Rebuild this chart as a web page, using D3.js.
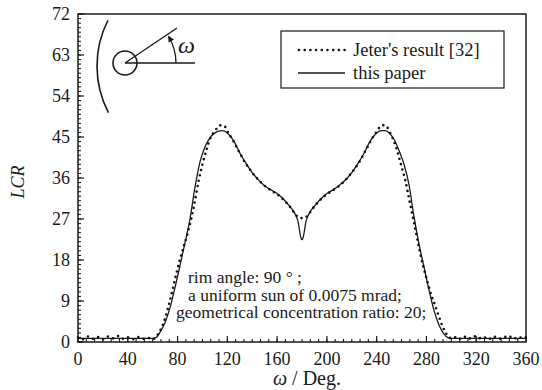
<!DOCTYPE html>
<html>
<head>
<meta charset="utf-8">
<script src="https://cdn.jsdelivr.net/npm/d3@7"></script>
</head>
<body style="margin:0">
<div id="container"></div>
<script>
const width = 542;
const height = 390;
const margin = { top: 14, right: 16, bottom: 48, left: 78 };
const serif = "\"Liberation Serif\"";
const ink = "#1a1a1a";

// "this paper" (solid line)
const omegaPaper = [0, 10, 20, 30, 40, 50, 60, 63, 66, 70, 74, 78, 82, 86, 90, 94, 98, 102, 106, 110,
    113, 116, 120, 125, 130, 135, 140, 145, 150, 155, 160, 165, 170, 173, 175, 177, 178, 179, 180,
    181, 182, 183, 185, 187, 190, 195, 200, 205, 210, 215, 220, 225, 230, 235, 240, 244, 247, 250,
    254, 258, 262, 266, 270, 274, 278, 282, 286, 290, 294, 297, 300, 310, 320, 330, 340, 350, 360];
const lcrPaper = [0.8, 0.8, 0.8, 0.8, 0.8, 0.8, 0.8, 1.0, 2.2, 4.3, 7.6, 12.0, 16.8, 21.8, 27.0, 34.0, 39.5, 42.8, 44.8, 45.9,
    46.3, 46.4, 45.9, 44.2, 41.5, 39.2, 37.2, 35.6, 34.3, 33.4, 32.6, 31.4, 29.8, 28.8, 27.8, 26.2, 24.5, 23.0, 22.5,
    23.0, 24.5, 26.2, 27.8, 28.8, 29.8, 31.4, 32.6, 33.4, 34.4, 35.6, 37.2, 39.2, 41.5, 44.2, 45.9, 46.4, 46.4, 45.9,
    44.5, 42.0, 39.0, 34.5, 27.5, 21.5, 16.5, 11.5, 7.0, 3.8, 1.8, 1.0, 0.8, 0.8, 0.8, 0.8, 0.8, 0.8, 0.8];

// Jeter's result [32] (dotted line)
const omegaJeter = [0, 4, 8, 12, 16, 20, 24, 28, 32, 36, 40, 44, 48, 52, 56, 60, 62, 64, 67, 70, 73, 76, 79,
    82, 85, 88, 91, 94, 97, 100, 103, 106, 109, 112, 115, 118, 121, 124, 127, 130, 134, 138, 142, 146,
    150, 154, 158, 162, 166, 170, 174, 177, 180, 183, 186, 190, 194, 198, 202, 206, 210, 214, 218, 222,
    226, 230, 233, 236, 239, 242, 245, 248, 251, 254, 257, 260, 263, 266, 269, 272, 275, 278, 281, 284,
    287, 290, 293, 296, 299, 302, 306, 310, 314, 318, 322, 326, 330, 334, 338, 342, 346, 350, 354, 358, 360];
const lcrJeter = [1.0, 0.6, 1.2, 0.7, 1.1, 0.6, 1.2, 0.8, 1.3, 0.7, 1.0, 0.6, 1.1, 0.7, 0.9, 0.6, 0.9, 1.6, 3.0, 5.2, 8.2, 11.5, 15.0,
    18.2, 21.0, 23.8, 27.0, 31.0, 35.5, 39.0, 42.0, 44.5, 46.0, 47.0, 47.6, 47.3, 45.8, 44.5, 43.0, 41.5, 39.5, 37.9, 36.5, 35.3,
    34.3, 33.5, 32.8, 32.0, 31.0, 29.8, 28.3, 27.4, 27.2, 27.4, 28.3, 29.8, 31.0, 32.0, 32.8, 33.5, 34.3, 35.3, 36.5, 37.9,
    39.5, 41.5, 43.0, 44.5, 45.8, 47.0, 47.6, 47.3, 45.8, 44.0, 41.5, 38.5, 35.5, 31.5, 27.5, 23.5, 19.5, 16.0, 13.0, 10.2,
    8.0, 5.6, 3.4, 1.8, 0.9, 1.1, 0.6, 1.2, 0.7, 1.3, 0.8, 1.1, 0.6, 1.2, 0.7, 1.0, 1.3, 0.7, 1.1, 0.8, 1.0];

const xTicks = [0, 40, 80, 120, 160, 200, 240, 280, 320, 360];
const yTicks = [0, 9, 18, 27, 36, 45, 54, 63, 72];

const noteLines = ["rim angle: 90 ° ;", "a uniform sun of 0.0075 mrad;", "geometrical concentration ratio: 20;"];
const legendNames = ["Jeter's result [32]", "this paper"];

const svg = d3.select("#container")
    .append("svg")
    .attr("width", width)
    .attr("height", height);

const x = d3.scaleLinear().domain([0, 360]).range([margin.left, width - margin.right]);
const y = d3.scaleLinear().domain([0, 72]).range([height - margin.bottom, margin.top]);

// every label goes through here
const label = (sel, size, italic) => sel
    .style("font-family", serif)
    .attr("font-size", size)
    .attr("font-style", italic ? "italic" : null)
    .attr("fill", ink);

// minor ticks
const xMinor = d3.range(0, 54).map((i) => i * 40 / 6);
const yMinor = d3.range(0, 73);
svg.append("g").selectAll("line")
    .data(xMinor)
    .enter()
    .append("line")
    .attr("x1", (d) => x(d)).attr("x2", (d) => x(d))
    .attr("y1", y(0)).attr("y2", y(0) - 3)
    .attr("stroke", ink).attr("stroke-width", 1.1);
svg.append("g").selectAll("line")
    .data(yMinor)
    .enter()
    .append("line")
    .attr("x1", x(0)).attr("x2", x(0) + 3)
    .attr("y1", (d) => y(d)).attr("y2", (d) => y(d))
    .attr("stroke", ink).attr("stroke-width", 1.1);

// major ticks + labels
svg.append("g").selectAll("line")
    .data(xTicks)
    .enter()
    .append("line")
    .attr("x1", (d) => x(d)).attr("x2", (d) => x(d))
    .attr("y1", y(0)).attr("y2", y(0) - 6)
    .attr("stroke", ink).attr("stroke-width", 1.2);
svg.append("g").selectAll("text")
    .data(xTicks)
    .enter()
    .append("text")
    .attr("x", (d) => x(d))
    .attr("y", y(0) + 23)
    .attr("text-anchor", "middle")
    .call(label, 18)
    .text((d) => d);
svg.append("g").selectAll("line")
    .data(yTicks)
    .enter()
    .append("line")
    .attr("x1", x(0)).attr("x2", x(0) + 6)
    .attr("y1", (d) => y(d)).attr("y2", (d) => y(d))
    .attr("stroke", ink).attr("stroke-width", 1.2);
svg.append("g").selectAll("text")
    .data(yTicks)
    .enter()
    .append("text")
    .attr("x", x(0) - 8)
    .attr("y", (d) => y(d) + 6)
    .attr("text-anchor", "end")
    .call(label, 18)
    .text((d) => d);

svg.append("rect")
    .attr("x", x(0))
    .attr("y", y(72))
    .attr("width", x(360) - x(0))
    .attr("height", y(0) - y(72))
    .attr("fill", "none")
    .attr("stroke", ink)
    .attr("stroke-width", 1.5);

const line = d3.line().x((d) => x(d[0])).y((d) => y(d[1])).curve(d3.curveMonotoneX);

svg.append("path")
    .datum(d3.zip(omegaPaper, lcrPaper))
    .attr("d", line)
    .attr("fill", "none")
    .attr("stroke", ink)
    .attr("stroke-width", 1.3);

svg.append("path")
    .datum(d3.zip(omegaJeter, lcrJeter))
    .attr("d", line)
    .attr("fill", "none")
    .attr("stroke", "#111")
    .attr("stroke-width", 2.6)
    .attr("stroke-linecap", "round")
    .attr("stroke-dasharray", "0,5.5");

// axis titles
const xTitle = svg.append("text")
    .attr("x", x(180) + 5)
    .attr("y", 385)
    .attr("text-anchor", "middle")
    .call(label, 20);
xTitle.append("tspan").attr("font-style", "italic").text("ω");
xTitle.append("tspan").text(" / Deg.");
svg.append("text")
    .attr("transform", `translate(24,${y(36) + 4}) rotate(-90)`)
    .attr("text-anchor", "middle")
    .call(label, 18, true)
    .text("LCR");

// notes
const noteX = [188, 188, 176];
const noteY = [283, 300.5, 318];
svg.append("g")
    .selectAll("text")
    .data(noteLines)
    .enter()
    .append("text")
    .attr("x", (d, i) => noteX[i])
    .attr("y", (d, i) => noteY[i])
    .call(label, 17.5)
    .text((d) => d);

// legend
const legend = svg.append("g");
legend.append("rect")
    .attr("x", 281).attr("y", 31)
    .attr("width", 223).attr("height", 57)
    .attr("fill", "#fff")
    .attr("stroke", ink)
    .attr("stroke-width", 1.2);
legend.append("line")
    .attr("x1", 299).attr("x2", 345).attr("y1", 50).attr("y2", 50)
    .attr("stroke", "#111").attr("stroke-width", 2.6)
    .attr("stroke-linecap", "round").attr("stroke-dasharray", "0,5.7");
legend.append("line")
    .attr("x1", 298).attr("x2", 345).attr("y1", 73).attr("y2", 73)
    .attr("stroke", ink).attr("stroke-width", 1.3);
legend.selectAll("text.lg")
    .data(legendNames)
    .enter()
    .append("text")
    .attr("class", "lg")
    .attr("x", 353)
    .attr("y", (d, i) => 56 + i * 23)
    .call(label, 18.5)
    .text((d) => d);

// inset sketch
const inset = svg.append("g").attr("stroke", ink).attr("fill", "none");
svg.append("defs").append("marker")
    .attr("id", "arr")
    .attr("viewBox", "0 0 10 10")
    .attr("refX", 8).attr("refY", 5)
    .attr("markerWidth", 5).attr("markerHeight", 5)
    .attr("orient", "auto")
    .append("path")
    .attr("d", "M0,0L10,5L0,10Z")
    .attr("fill", ink);
const cx = 125, cy = 63;
const mirror = d3.arc()({ innerRadius: 101, outerRadius: 101, startAngle: -Math.PI / 2 - 0.48, endAngle: -Math.PI / 2 + 0.47 });
inset.append("path")
    .attr("transform", "translate(198,66)")
    .attr("d", mirror.split("L")[0])
    .attr("stroke-width", 1.6);
inset.append("circle").attr("cx", cx).attr("cy", cy).attr("r", 12).attr("stroke-width", 1.6);
inset.append("line").attr("x1", cx).attr("y1", cy).attr("x2", 195).attr("y2", cy).attr("stroke-width", 1.4);
inset.append("line").attr("x1", cx).attr("y1", cy).attr("x2", 177).attr("y2", 28).attr("stroke-width", 1.4);
const a1 = -31 * Math.PI / 180;
inset.append("path")
    .attr("d", `M${cx + 51},${cy} A51,51 0 0 0 ${cx + 51 * Math.cos(a1)},${cy + 51 * Math.sin(a1)}`)
    .attr("stroke-width", 1.3)
    .attr("marker-end", "url(#arr)");
svg.append("text")
    .attr("x", 178).attr("y", 53)
    .call(label, 24, true)
    .text("ω");
</script>
</body>
</html>
